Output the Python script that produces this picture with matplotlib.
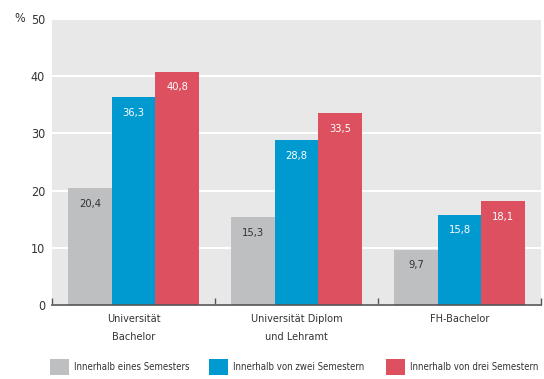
import matplotlib
matplotlib.use("Agg")
import matplotlib.pyplot as plt
from matplotlib.patches import Rectangle
import numpy as np

categories = ["Universität\nBachelor", "Universität Diplom\nund Lehramt", "FH-Bachelor"]
series_names = [
    "Innerhalb eines Semesters",
    "Innerhalb von zwei Semestern",
    "Innerhalb von drei Semestern",
]
eines = [20.4, 15.3, 9.7]
zwei = [36.3, 28.8, 15.8]
drei = [40.8, 33.5, 18.1]
y_ticks = [0, 10, 20, 30, 40, 50]

COLORS = ["#bebfc1", "#009ad1", "#dc5060"]
LABEL_COLORS = ["#333333", "white", "white"]
BG = "#e8e8e8"
TXT = "#333333"

plt.rcParams["font.family"] = ["DejaVu Sans"]
plt.rcParams["font.stretch"] = "condensed"

W, H = 544, 379
fig = plt.figure(figsize=(W / 100, H / 100), dpi=100)
ax = fig.add_axes([52 / W, 74 / H, 489 / W, 286 / H])
ax.set_facecolor(BG)

x = np.arange(len(categories))
w = 0.268
for i, (vals, col, lcol) in enumerate(zip([eines, zwei, drei], COLORS, LABEL_COLORS)):
    pos = x + (i - 1) * w
    ax.bar(pos, vals, width=w, color=col, zorder=3)
    for p, v in zip(pos, vals):
        ax.text(p, v - 2.7, f"{v:.1f}".replace(".", ","), ha="center", va="center",
                color=lcol, fontsize=8, zorder=4)

ax.set_xlim(-0.5, 2.5)
ax.set_ylim(0, 50)
ax.set_yticks(y_ticks)
ax.set_yticklabels([str(t) for t in y_ticks], fontsize=9, color=TXT)
ax.tick_params(axis="y", length=0, pad=5)
ax.grid(axis="y", color="white", linewidth=1.5, zorder=0)

ax.set_xticks([-0.5, 0.5, 1.5, 2.5])
ax.set_xticklabels([])
ax.tick_params(axis="x", direction="in", length=5, color="#555555", width=1)
for s in ["top", "right", "left"]:
    ax.spines[s].set_visible(False)
ax.spines["bottom"].set_color("#555555")
ax.spines["bottom"].set_linewidth(1.2)
ax.spines["bottom"].set_zorder(5)

for xi, cat in zip(x, categories):
    ax.text(xi, -1.6, cat, ha="center", va="top", fontsize=7.8, color=TXT,
            linespacing=2.0)

fig.text(20 / W, 1 - 19 / H, "%", ha="center", va="center", fontsize=9, color=TXT)

# legend, placed by hand to match the reference layout
legend_x = [50, 209, 386]
for lx, col, name in zip(legend_x, COLORS, series_names):
    fig.add_artist(Rectangle((lx / W, 1 - 375 / H), 19 / W, 16 / H,
                             transform=fig.transFigure, facecolor=col, edgecolor="none"))
    fig.text((lx + 24) / W, 1 - 367 / H, name, ha="left", va="center",
             fontsize=6.9, color=TXT)

fig.savefig("out.png", dpi=100, facecolor="white")
